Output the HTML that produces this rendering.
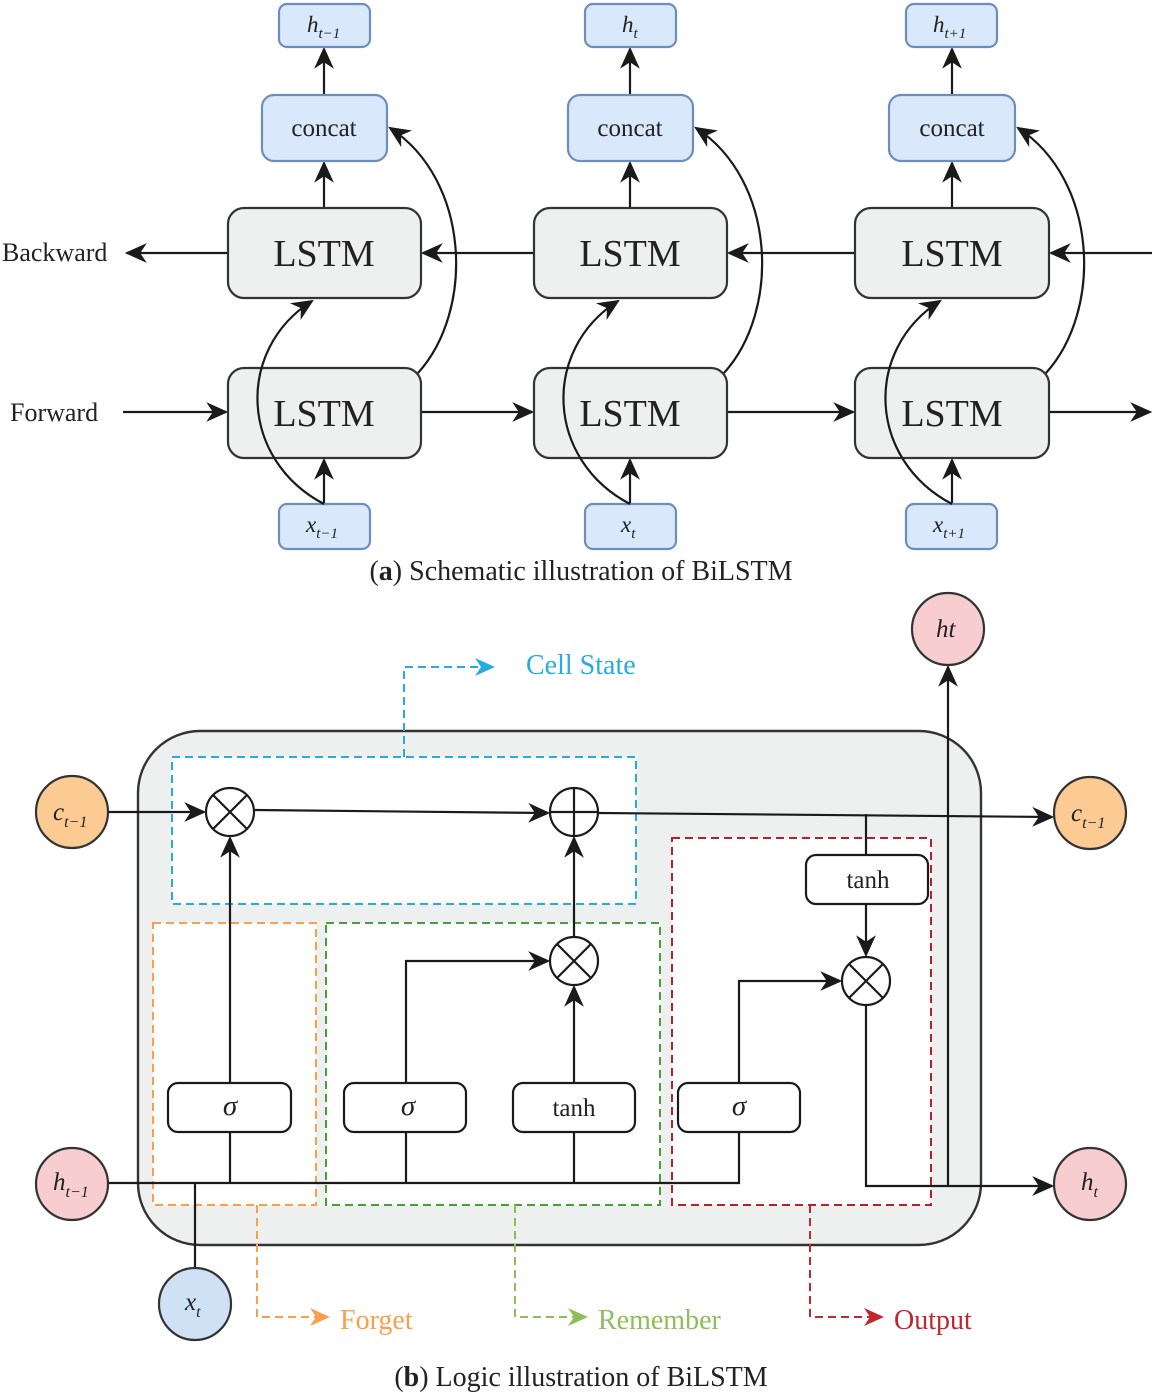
<!DOCTYPE html>
<html><head><meta charset="utf-8"><style>body{margin:0;background:#fff}svg{display:block}text{font-family:"Liberation Serif",serif;fill:#222}</style></head>
<body>
<svg width="1156" height="1396" viewBox="0 0 1156 1396" xmlns="http://www.w3.org/2000/svg">
<defs>
<marker id="ab" viewBox="0 0 10 10" refX="9" refY="5" markerWidth="22" markerHeight="22" orient="auto" markerUnits="userSpaceOnUse"><path d="M0,0.5L10,5L0,9.5L3,5z" fill="#1a1a1a"/></marker>
<marker id="mo" viewBox="0 0 10 10" refX="9" refY="5" markerWidth="20" markerHeight="20" orient="auto" markerUnits="userSpaceOnUse"><path d="M0,0.5L10,5L0,9.5L3,5z" fill="#f7a14f"/></marker>
<marker id="mg" viewBox="0 0 10 10" refX="9" refY="5" markerWidth="20" markerHeight="20" orient="auto" markerUnits="userSpaceOnUse"><path d="M0,0.5L10,5L0,9.5L3,5z" fill="#8cbf5a"/></marker>
<marker id="mr" viewBox="0 0 10 10" refX="9" refY="5" markerWidth="20" markerHeight="20" orient="auto" markerUnits="userSpaceOnUse"><path d="M0,0.5L10,5L0,9.5L3,5z" fill="#c1272d"/></marker>
<marker id="mb" viewBox="0 0 10 10" refX="9" refY="5" markerWidth="20" markerHeight="20" orient="auto" markerUnits="userSpaceOnUse"><path d="M0,0.5L10,5L0,9.5L3,5z" fill="#29abe2"/></marker>
</defs>

<g stroke="#1a1a1a" stroke-width="2.2" fill="none">
<line x1="1152" y1="253" x2="1051" y2="253" marker-end="url(#ab)"/>
<line x1="855" y1="253" x2="729" y2="253" marker-end="url(#ab)"/>
<line x1="534" y1="253" x2="423" y2="253" marker-end="url(#ab)"/>
<line x1="228" y1="253" x2="127" y2="253" marker-end="url(#ab)"/>
<line x1="123" y1="412" x2="226" y2="412" marker-end="url(#ab)"/>
<line x1="421" y1="412" x2="532" y2="412" marker-end="url(#ab)"/>
<line x1="727" y1="412" x2="853" y2="412" marker-end="url(#ab)"/>
<line x1="1049" y1="412" x2="1150" y2="412" marker-end="url(#ab)"/>
</g>
<g stroke-width="2.2">
<g stroke="#1a1a1a" fill="none">
<line x1="324" y1="504" x2="324" y2="460" marker-end="url(#ab)"/>
<line x1="324" y1="208" x2="324" y2="163" marker-end="url(#ab)"/>
<line x1="324" y1="95" x2="324" y2="49" marker-end="url(#ab)"/>
<line x1="630" y1="504" x2="630" y2="460" marker-end="url(#ab)"/>
<line x1="630" y1="208" x2="630" y2="163" marker-end="url(#ab)"/>
<line x1="630" y1="95" x2="630" y2="49" marker-end="url(#ab)"/>
<line x1="952" y1="504" x2="952" y2="460" marker-end="url(#ab)"/>
<line x1="952" y1="208" x2="952" y2="163" marker-end="url(#ab)"/>
<line x1="952" y1="95" x2="952" y2="49" marker-end="url(#ab)"/>
</g>
<g fill="#eef0ef" stroke="#333">
<rect x="228" y="208" width="193" height="90" rx="16"/>
<rect x="228" y="368" width="193" height="90" rx="16"/>
<rect x="534" y="208" width="193" height="90" rx="16"/>
<rect x="534" y="368" width="193" height="90" rx="16"/>
<rect x="855" y="208" width="194" height="90" rx="16"/>
<rect x="855" y="368" width="194" height="90" rx="16"/>
</g>
<g fill="#dae8fc" stroke="#6c8ebf">
<rect x="279" y="4" width="91" height="43" rx="8"/>
<rect x="262" y="95" width="125" height="66" rx="12"/>
<rect x="279" y="504" width="91" height="45" rx="8"/>
<rect x="585" y="4" width="91" height="43" rx="8"/>
<rect x="568" y="95" width="125" height="66" rx="12"/>
<rect x="585" y="504" width="91" height="45" rx="8"/>
<rect x="906" y="4" width="91" height="43" rx="8"/>
<rect x="889" y="95" width="126" height="66" rx="12"/>
<rect x="906" y="504" width="91" height="45" rx="8"/>
</g>
<g stroke="#1a1a1a" fill="none">
<path d="M324,504 C240,460 235,350 312,301" marker-end="url(#ab)"/>
<path d="M418,373 C475,310 470,180 390,128" marker-end="url(#ab)"/>
<path d="M630,504 C546,460 541,350 618,301" marker-end="url(#ab)"/>
<path d="M724,373 C781,310 776,180 696,128" marker-end="url(#ab)"/>
<path d="M952,504 C868,460 863,350 940,301" marker-end="url(#ab)"/>
<path d="M1046,373 C1103,310 1098,180 1018,128" marker-end="url(#ab)"/>
</g>
</g>
<g font-size="38" text-anchor="middle">
<text x="324" y="266">LSTM</text><text x="324" y="426">LSTM</text>
<text x="630" y="266">LSTM</text><text x="630" y="426">LSTM</text>
<text x="952" y="266">LSTM</text><text x="952" y="426">LSTM</text>
</g>
<g font-size="25" text-anchor="middle">
<text x="324" y="136">concat</text><text x="630" y="136">concat</text><text x="952" y="136">concat</text>
</g>
<g font-size="23" font-style="italic">
<text x="307" y="32">h<tspan font-size="15" dy="6">t−1</tspan></text>
<text x="622" y="32">h<tspan font-size="15" dy="6">t</tspan></text>
<text x="933" y="32">h<tspan font-size="15" dy="6">t+1</tspan></text>
<text x="306" y="532">x<tspan font-size="15" dy="6">t−1</tspan></text>
<text x="621" y="532">x<tspan font-size="15" dy="6">t</tspan></text>
<text x="933" y="532">x<tspan font-size="15" dy="6">t+1</tspan></text>
</g>
<text x="2" y="261" font-size="26">Backward</text>
<text x="10" y="421" font-size="26">Forward</text>
<text x="581" y="580" font-size="28" text-anchor="middle">(<tspan font-weight="bold">a</tspan>) Schematic illustration of BiLSTM</text>

<rect x="138" y="731" width="843" height="514" rx="62" fill="#eef0ef" stroke="#333" stroke-width="2.4"/>
<g fill="#fff" stroke-width="2" stroke-dasharray="8,5">
<rect x="172" y="757" width="464" height="147" stroke="#29abe2"/>
<rect x="153" y="923" width="163" height="282" stroke="#f7a14f"/>
<rect x="326" y="923" width="334" height="282" stroke="#4a9e3a"/>
<rect x="672" y="838" width="259" height="367" stroke="#b5202a"/>
</g>
<g fill="none" stroke-width="2" stroke-dasharray="8,5">
<path d="M404,757 V667 H493" stroke="#29abe2" marker-end="url(#mb)"/>
<path d="M257,1205 V1317 H328" stroke="#f7a14f" marker-end="url(#mo)"/>
<path d="M515,1205 V1317 H586" stroke="#8cbf5a" marker-end="url(#mg)"/>
<path d="M810,1205 V1317 H882" stroke="#c1272d" marker-end="url(#mr)"/>
</g>
<text x="526" y="674" font-size="28" style="fill:#29abe2">Cell State</text>
<text x="340" y="1329" font-size="28" style="fill:#f7a14f">Forget</text>
<text x="598" y="1329" font-size="28" style="fill:#8cbf5a">Remember</text>
<text x="894" y="1329" font-size="28" style="fill:#c1272d">Output</text>

<g stroke="#1a1a1a" stroke-width="2.2" fill="none">
<line x1="108" y1="812" x2="204" y2="812" marker-end="url(#ab)"/>
<line x1="255" y1="810" x2="548" y2="813" marker-end="url(#ab)"/>
<line x1="599" y1="813" x2="1052" y2="817" marker-end="url(#ab)"/>
<line x1="866" y1="814" x2="866" y2="855"/>
<line x1="866" y1="904" x2="866" y2="955" marker-end="url(#ab)"/>
<path d="M739,1083 V981 H840" marker-end="url(#ab)"/>
<path d="M866,1005 V1186 H1052" marker-end="url(#ab)"/>
<line x1="948" y1="1186" x2="948" y2="667" marker-end="url(#ab)"/>
<path d="M108,1183 H739 V1132"/>
<line x1="230" y1="1132" x2="230" y2="1183"/>
<line x1="406" y1="1132" x2="406" y2="1183"/>
<line x1="574" y1="1132" x2="574" y2="1183"/>
<line x1="195" y1="1268" x2="195" y2="1183"/>
<line x1="230" y1="1083" x2="230" y2="838" marker-end="url(#ab)"/>
<path d="M406,1083 V961 H548" marker-end="url(#ab)"/>
<line x1="574" y1="1083" x2="574" y2="987" marker-end="url(#ab)"/>
<line x1="574" y1="937" x2="574" y2="838" marker-end="url(#ab)"/>
</g>
<g fill="#fff" stroke="#1a1a1a" stroke-width="2.2">
<circle cx="230" cy="812" r="24"/><path d="M213,795L247,829M247,795L213,829"/>
<circle cx="574" cy="812" r="24"/><path d="M574,788V836M550,812H598"/>
<circle cx="574" cy="961" r="24"/><path d="M557,944L591,978M591,944L557,978"/>
<circle cx="866" cy="981" r="24"/><path d="M849,964L883,998M883,964L849,998"/>
<rect x="168" y="1083" width="123" height="49" rx="10"/>
<rect x="344" y="1083" width="122" height="49" rx="10"/>
<rect x="513" y="1083" width="122" height="49" rx="10"/>
<rect x="678" y="1083" width="122" height="49" rx="10"/>
<rect x="806" y="855" width="122" height="49" rx="10"/>
</g>
<g font-size="25" text-anchor="middle">
<text x="230" y="1115" font-style="italic" font-size="29">σ</text>
<text x="408" y="1115" font-style="italic" font-size="29">σ</text>
<text x="574" y="1116">tanh</text>
<text x="739" y="1115" font-style="italic" font-size="29">σ</text>
<text x="868" y="888">tanh</text>
</g>
<g stroke="#333" stroke-width="2.2">
<circle cx="72" cy="812" r="36" fill="#fccb94"/>
<circle cx="72" cy="1184" r="36" fill="#f8cdd0"/>
<circle cx="195" cy="1304" r="36" fill="#cfe2f5"/>
<circle cx="948" cy="629" r="36" fill="#f8cdd0"/>
<circle cx="1090" cy="813" r="36" fill="#fccb94"/>
<circle cx="1090" cy="1184" r="36" fill="#f8cdd0"/>
</g>
<g font-size="25" font-style="italic">
<text x="53" y="820">c<tspan font-size="16" dy="7">t−1</tspan></text>
<text x="53" y="1190">h<tspan font-size="16" dy="7">t−1</tspan></text>
<text x="185" y="1310">x<tspan font-size="16" dy="7">t</tspan></text>
<text x="936" y="637">ht</text>
<text x="1071" y="821">c<tspan font-size="16" dy="7">t−1</tspan></text>
<text x="1081" y="1190">h<tspan font-size="16" dy="7">t</tspan></text>
</g>
<text x="581" y="1386" font-size="28" text-anchor="middle">(<tspan font-weight="bold">b</tspan>) Logic illustration of BiLSTM</text>
</svg>
</body></html>
